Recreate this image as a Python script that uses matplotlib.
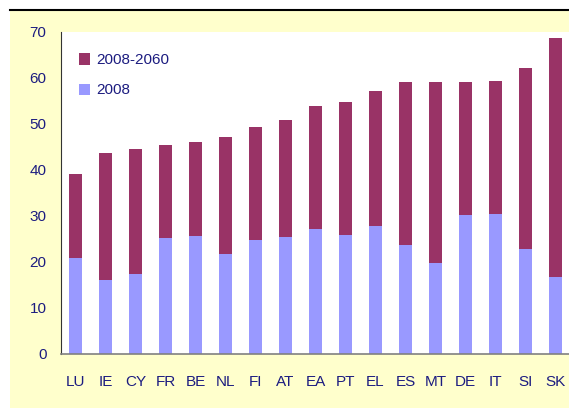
import matplotlib.pyplot as plt
from matplotlib.patches import Rectangle
from matplotlib.lines import Line2D

countries = ["LU", "IE", "CY", "FR", "BE", "NL", "FI", "AT", "EA",
             "PT", "EL", "ES", "MT", "DE", "IT", "SI", "SK"]
level_2008 = [20.7, 16.1, 17.4, 25.1, 25.5, 21.6, 24.6, 25.3, 27.0,
              25.7, 27.7, 23.7, 19.6, 30.1, 30.3, 22.7, 16.6]
level_2060 = [39.0, 43.6, 44.4, 45.3, 46.0, 47.1, 49.2, 50.8, 53.8,
              54.7, 57.1, 59.0, 59.0, 59.0, 59.3, 62.1, 68.6]
change = [b - a for a, b in zip(level_2008, level_2060)]

navy = "#1C1C80"
plt.rcParams["font.family"] = ["Liberation Sans", "DejaVu Sans"]

fig = plt.figure(figsize=(5.69, 4.08), dpi=100)
W, H = 569, 408

# pale yellow panel with the black rule on top
fig.patches.append(Rectangle((10 / W, 0), 1, (H - 10) / H, transform=fig.transFigure,
                             facecolor="#FFFFCC", edgecolor="none", zorder=-10))
fig.lines.append(Line2D([10 / W, 1], [(H - 10) / H] * 2, transform=fig.transFigure,
                        color="black", lw=1.5))

ax = fig.add_axes([60.5 / W, 54.3 / H, 510 / W, 322.2 / H])
ax.set_facecolor("white")

x = range(len(countries))
ax.bar(x, level_2008, width=0.43, color="#9999FF", label="2008")
ax.bar(x, change, width=0.43, bottom=level_2008, color="#993366", label="2008-2060")

ax.set_xlim(-0.5, 16.5)
ax.set_ylim(0, 70)
ax.set_yticks(range(0, 71, 10))
ax.set_xticks(list(x))
ax.set_xticklabels(countries)
ax.tick_params(axis="y", length=0, pad=10, labelsize=11, labelcolor=navy)
ax.tick_params(axis="x", length=0, pad=15, labelsize=11, labelcolor=navy)

for side in ["top", "right"]:
    ax.spines[side].set_visible(False)
ax.spines["left"].set_color("#333333")
ax.spines["bottom"].set_color("#808080")
ax.spines["bottom"].set_linewidth(1.2)

handles, labels = ax.get_legend_handles_labels()
ax.legend(handles[::-1], labels[::-1], loc="upper left", bbox_to_anchor=(0.036, 0.932),
          frameon=False, fontsize=11, labelcolor=navy, handlelength=0.75,
          handleheight=0.75, handletextpad=0.4, labelspacing=1.05, borderpad=0,
          borderaxespad=0)

fig.savefig("out.png", dpi=100)
